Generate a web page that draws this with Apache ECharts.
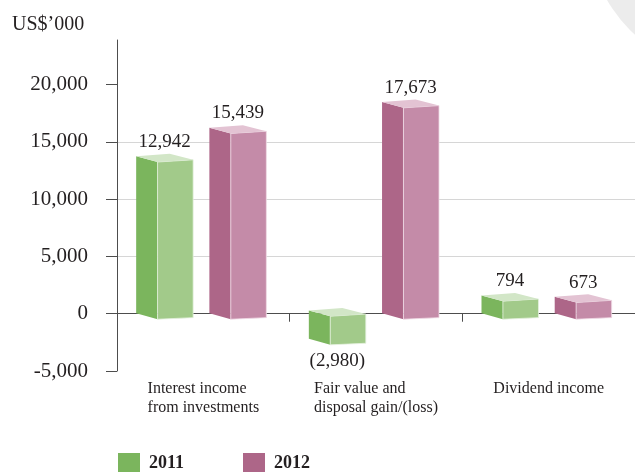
<!DOCTYPE html>
<html>
<head>
<meta charset="utf-8">
<script src="https://cdn.jsdelivr.net/npm/echarts@6/dist/echarts.min.js"></script>
<style>
html,body{margin:0;padding:0;background:#fff;}
#chart{width:635px;height:472px;}
</style>
</head>
<body>
<div id="chart"></div>
<script>
const categories = ['Interest income\nfrom investments', 'Fair value and\ndisposal gain/(loss)', 'Dividend income'];
const years = ['2011', '2012'];
const values2011 = [12942, -2980, 794];
const values2012 = [15439, 17673, 673];
const yTickValues = [-5000, 0, 5000, 10000, 15000, 20000];
const unitLabel = 'US$’000';

const FONT = '"Liberation Serif", "DejaVu Serif", serif';
const TEXT = '#231f20';

function fmt(v) {
  const s = Math.abs(v).toLocaleString('en-US');
  return v < 0 ? '(' + s + ')' : s;
}

function makeRender(offsetFrac, col) {
  return function (params, api) {
    const i = api.value(0), v = api.value(1);
    const bw = api.size([1, 0])[0];
    const c = api.coord([i, v]);
    const c0 = api.coord([i, 0]);
    const W = bw * 0.33, S = bw * 0.124;
    const L = c[0] + offsetFrac * bw;
    const fx = L + S;
    const R = L + W;
    let ft, fb;
    if (v >= 0) { ft = c[1] - 3.5; fb = c0[1] + 5.5; }
    else { ft = c0[1] + 2.5; fb = c[1] - 3; }
    const bx = fx + (R - fx) * 0.34;
    return {
      type: 'group',
      children: [
        { type: 'polygon', shape: { points: [[L, ft - 5.7], [fx, ft], [fx, fb], [L, fb - 6]] },
          style: { fill: col.side } },
        { type: 'polygon', shape: { points: [[fx, ft], [R, ft - 2.2], [R, fb - 1.6], [fx, fb]] },
          style: { fill: col.front, stroke: col.edge, lineWidth: 0.8 } },
        { type: 'polygon', shape: { points: [[L, ft - 5.7], [bx, ft - 8.2], [R, ft - 2.2], [fx, ft]] },
          style: { fill: col.top } },
        { type: 'text', style: {
            text: fmt(v), x: (L + R) / 2, y: v >= 0 ? ft - 20 : fb + 16,
            align: 'center', verticalAlign: 'middle',
            fontSize: 19, fontFamily: FONT, fill: TEXT } }
      ]
    };
  };
}

const green = { side: '#7bb55d', front: '#a2ca8a', top: '#d2e6c7', edge: '#e6f1df' };
const pink = { side: '#ad6688', front: '#c48ba8', top: '#e3c3d3', edge: '#f1dde7' };

const chart = echarts.init(document.getElementById('chart'), null, { renderer: 'canvas' });
chart.setOption({
  animation: false,
  backgroundColor: '#fff',
  graphic: [
    { type: 'circle', z: -10, silent: true, shape: { cx: 730, cy: -70, r: 141.5 }, style: { fill: '#ececec' } },
    { type: 'text', left: 12, top: 15, style: { text: unitLabel, fontSize: 20, fontFamily: FONT, fill: TEXT } }
  ],
  legend: {
    data: years.map((y, k) => ({ name: y, icon: 'rect', itemStyle: { color: k === 0 ? green.side : pink.side } })),
    left: 118, top: 453, padding: 0, itemWidth: 22, itemHeight: 20, itemGap: 59,
    textStyle: { fontSize: 18, fontWeight: 'bold', fontFamily: FONT, color: TEXT, padding: [0, 0, 0, 4] }
  },
  grid: { left: 117, right: 0, top: 40, bottom: 101, containLabel: false },
  xAxis: {
    type: 'category', data: categories, boundaryGap: true,
    axisLine: { lineStyle: { color: '#4d4d4d', width: 1 } },
    axisTick: { show: true, length: 8, lineStyle: { color: '#4d4d4d' } },
    axisLabel: {
      margin: 8, interval: 0,
      formatter: function (val) { return val.split('\n').map(s => '{l|' + s + '}').join('\n'); },
      rich: { l: { align: 'left', fontSize: 16, lineHeight: 19, fontFamily: FONT, color: TEXT } }
    },
    splitLine: { show: false }
  },
  yAxis: {
    type: 'value', min: -5000, max: 23900, interval: 5000,
    axisLine: { show: true, lineStyle: { color: '#4d4d4d', width: 1 } },
    axisTick: { show: true, length: 11, customValues: yTickValues, lineStyle: { color: '#4d4d4d' } },
    axisLabel: {
      customValues: yTickValues, margin: 29, fontSize: 21, fontFamily: FONT, color: TEXT,
      formatter: function (v) { return v.toLocaleString('en-US'); }
    },
    splitLine: { show: true, showMaxLine: false, showMinLine: false, lineStyle: { color: '#d6d6d6', width: 1 } }
  },
  series: [
    { name: years[0], type: 'custom', itemStyle: { color: green.side }, clip: false,
      renderItem: makeRender(-0.389, green), data: values2011.map((v, i) => [i, v]) },
    { name: years[1], type: 'custom', itemStyle: { color: pink.side }, clip: false,
      renderItem: makeRender(0.035, pink), data: values2012.map((v, i) => [i, v]) }
  ]
});
</script>
</body>
</html>
